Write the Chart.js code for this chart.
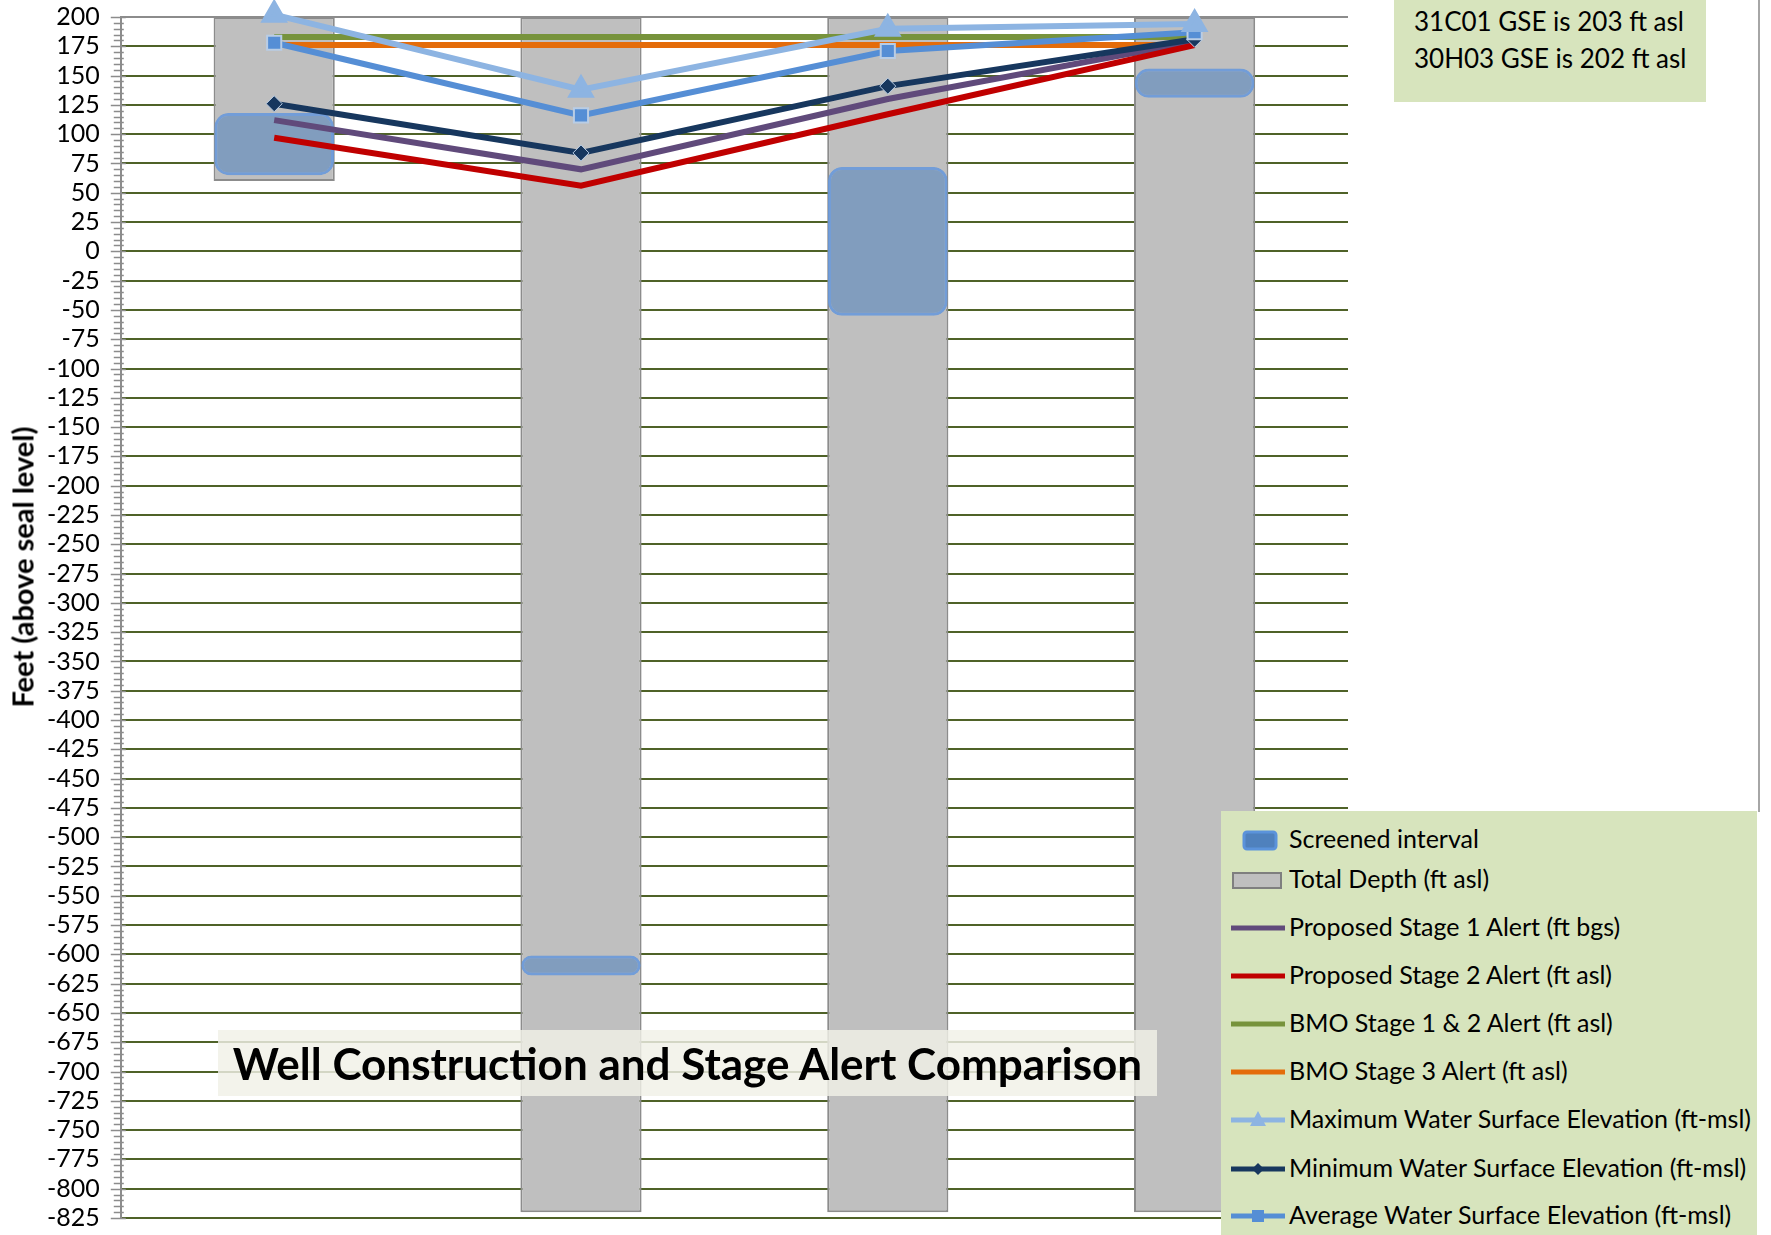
<!DOCTYPE html>
<html>
<head>
<meta charset="utf-8">
<title>Well Construction and Stage Alert Comparison</title>
<script src="https://cdn.jsdelivr.net/npm/chart.js@4.4.1/dist/chart.umd.min.js"></script>
<style>
    html, body { margin: 0; padding: 0; background: #fff; }
    #wrap { position: relative; width: 1771px; height: 1235px; overflow: hidden; font-family: Lato, 'Open Sans', sans-serif; color: #000; }
    #wellChart { position: absolute; left: 0; top: 0; }
    .frame { position: absolute; left: 1758px; top: 0; width: 2px; height: 812px; background: #A6A6A6; }
    .ytitle { position: absolute; left: 22px; top: 567px; transform: translate(-50%, -50%) rotate(-90deg); font-weight: bold; font-size: 29px; white-space: nowrap; }
    .note { position: absolute; left: 1394px; top: 0; width: 312px; height: 102px; background: #D7E4BD; font-size: 26px; line-height: 37px; padding: 3px 0 0 20px; box-sizing: border-box; }
    .title { position: absolute; left: 218px; top: 1030px; width: 939px; height: 66px; background: rgba(240, 240, 230, 0.82); font-weight: bold; font-size: 44px; text-align: center; line-height: 66px; white-space: nowrap; }
    #legend { position: absolute; left: 1221px; top: 811px; width: 536px; height: 424px; background: #D7E4BD; }
    #legend .row { position: absolute; left: 0; width: 536px; height: 40px; line-height: 40px; font-size: 25px; white-space: nowrap; }
    #legend canvas { position: absolute; left: 8px; top: 10px; }
    #legend span { position: absolute; left: 68px; top: 0; }
</style>
</head>
<body>
<div id="wrap">
    <canvas id="wellChart" width="1771" height="1235"></canvas>
    <div class="frame"></div>
    <div class="ytitle">Feet (above seal level)</div>
    <div class="note">31C01 GSE is 203 ft asl<br>30H03 GSE is 202 ft asl</div>
    <div class="title">Well Construction and Stage Alert Comparison</div>
    <div id="legend"></div>
</div>
<script>
// wells (category labels are not printed on the chart)
const wells = ['Well 1', 'Well 2', 'Well 3', 'Well 4'];

// elevations in ft
const totalDepth = [60, -820, -820, -820];
const screenTop = [118, -601, 72, 156];
const screenBottom = [65, -618, -55, 131];
const stage1Alert = [112, 70, 130, 179];
const stage2Alert = [97, 56, 117, 176];
const bmoStage12 = [183, 183, 183, 183];
const bmoStage3 = [176, 176, 176, 176];
const maxWse = [202, 138, 190, 194];
const minWse = [126, 84, 141, 181];
const avgWse = [178, 116, 171, 187];

// y axis
const yMin = -825;
const yMax = 200;
const yStep = 25;
const yMinorStep = 5;

const seriesNames = [
    'Screened interval',
    'Total Depth (ft asl)',
    'Proposed Stage 1 Alert (ft bgs)',
    'Proposed Stage 2 Alert (ft asl)',
    'BMO Stage 1 & 2 Alert (ft asl)',
    'BMO Stage 3 Alert (ft asl)',
    'Maximum Water Surface Elevation (ft-msl)',
    'Minimum Water Surface Elevation (ft-msl)',
    'Average Water Surface Elevation (ft-msl)',
];

function lineSet(label, data, color, order, extra) {
    return Object.assign({
        type: 'line',
        label: label,
        data: data,
        borderColor: color,
        backgroundColor: color,
        borderWidth: 6,
        pointRadius: 0,
        tension: 0,
        clip: false,
        order: order,
    }, extra || {});
}

// draws the small gray tick marks along the value axis
const minorTicks = {
    id: 'minorTicks',
    afterDraw(chart) {
        const ctx = chart.ctx;
        const y = chart.scales.y;
        const x0 = chart.chartArea.left;
        ctx.save();
        ctx.strokeStyle = '#8C8C8C';
        ctx.lineWidth = 1.5;
        ctx.beginPath();
        for (let v = yMax; v >= yMin; v -= yMinorStep) {
            const py = Math.round(y.getPixelForValue(v)) + 0.5;
            const major = v % yStep === 0;
            ctx.moveTo(x0 - (major ? 10 : 7), py);
            ctx.lineTo(x0 + (major ? 5 : 3), py);
        }
        ctx.stroke();
        ctx.restore();
    },
};

const ctx = document.getElementById('wellChart').getContext('2d');

const chart = new Chart(ctx, {
    type: 'bar',
    data: {
        labels: wells,
        datasets: [
            {
                label: seriesNames[0],
                data: screenBottom.map((b, i) => [b, screenTop[i]]),
                backgroundColor: 'rgba(79, 129, 189, 0.55)',
                borderColor: 'rgba(100, 150, 220, 0.85)',
                borderWidth: 3,
                borderRadius: 14,
                borderSkipped: false,
                grouped: false,
                barPercentage: 0.39,
                categoryPercentage: 1,
                order: 9,
            },
            {
                label: seriesNames[1],
                data: totalDepth.map((d) => [d, yMax]),
                backgroundColor: '#BFBFBF',
                borderColor: '#8C8C8C',
                borderWidth: 2,
                borderSkipped: false,
                grouped: false,
                barPercentage: 0.395,
                categoryPercentage: 1,
                order: 10,
            },
            lineSet(seriesNames[2], stage1Alert, '#604A7B', 5),
            lineSet(seriesNames[3], stage2Alert, '#C00000', 4),
            lineSet(seriesNames[4], bmoStage12, '#77933C', 7),
            lineSet(seriesNames[5], bmoStage3, '#E46C0A', 6),
            lineSet(seriesNames[6], maxWse, '#8DB4E2', 1, {
                pointStyle: 'triangle', pointRadius: 10, pointBorderColor: '#8DB4E2', pointBackgroundColor: '#8DB4E2',
            }),
            lineSet(seriesNames[7], minWse, '#17375E', 3, {
                pointStyle: 'rectRot', pointRadius: 8, pointBorderColor: '#B9CDE5', pointBorderWidth: 1, pointBackgroundColor: '#17375E',
            }),
            lineSet(seriesNames[8], avgWse, '#558ED5', 2, {
                pointStyle: 'rect', pointRadius: 10, pointBorderColor: '#B9CDE5', pointBorderWidth: 2, pointBackgroundColor: '#558ED5',
            }),
        ],
    },
    options: {
        responsive: false,
        animation: false,
        layout: {
            padding: { left: 41, right: 423, top: 0, bottom: 0 },
        },
        plugins: {
            legend: { display: false },
        },
        scales: {
            x: {
                display: false,
                offset: true,
            },
            y: {
                min: yMin,
                max: yMax,
                ticks: {
                    stepSize: yStep,
                    autoSkip: false,
                    maxTicksLimit: 100,
                    color: '#000',
                    padding: 6,
                    font: { family: 'Lato', size: 25, lineHeight: 0.88 },
                },
                grid: {
                    color: (c) => (c.tick && c.tick.value === yMax ? '#8C8C8C' : '#4F6228'),
                    lineWidth: 2,
                    drawTicks: true,
                    tickLength: 15,
                    tickColor: 'rgba(0, 0, 0, 0)',
                },
                border: { color: '#8C8C8C', width: 2 },
            },
        },
    },
    plugins: [minorTicks],
});

// legend built from the chart's own datasets
const legendEl = document.getElementById('legend');
const rowTops = [7, 47, 95, 143, 191, 239, 287, 336, 383];
chart.data.datasets.forEach((ds, i) => {
    const row = document.createElement('div');
    row.className = 'row';
    row.style.top = rowTops[i] + 'px';
    const icon = document.createElement('canvas');
    icon.width = 58;
    icon.height = 24;
    const g = icon.getContext('2d');
    if (i === 0) {
        g.fillStyle = '#4F81BD';
        g.strokeStyle = '#5B93DB';
        g.lineWidth = 3;
        g.beginPath();
        g.roundRect(15, 4, 32, 17, 3);
        g.fill();
        g.stroke();
    } else if (i === 1) {
        g.fillStyle = '#BFBFBF';
        g.strokeStyle = '#7F7F7F';
        g.lineWidth = 2;
        g.fillRect(4, 5, 48, 15);
        g.strokeRect(4, 5, 48, 15);
    } else {
        g.strokeStyle = ds.borderColor;
        g.lineWidth = 5;
        g.beginPath();
        g.moveTo(2, 12);
        g.lineTo(56, 12);
        g.stroke();
        g.fillStyle = ds.pointBackgroundColor || ds.borderColor;
        if (ds.pointStyle === 'triangle') {
            g.beginPath();
            g.moveTo(29, 3);
            g.lineTo(37, 18);
            g.lineTo(21, 18);
            g.closePath();
            g.fill();
        } else if (ds.pointStyle === 'rectRot') {
            g.beginPath();
            g.moveTo(29, 6);
            g.lineTo(35, 12);
            g.lineTo(29, 18);
            g.lineTo(23, 12);
            g.closePath();
            g.fill();
        } else if (ds.pointStyle === 'rect') {
            g.fillRect(23, 6, 12, 12);
        }
    }
    row.appendChild(icon);
    const txt = document.createElement('span');
    txt.textContent = ds.label;
    row.appendChild(txt);
    legendEl.appendChild(row);
});
</script>
</body>
</html>
